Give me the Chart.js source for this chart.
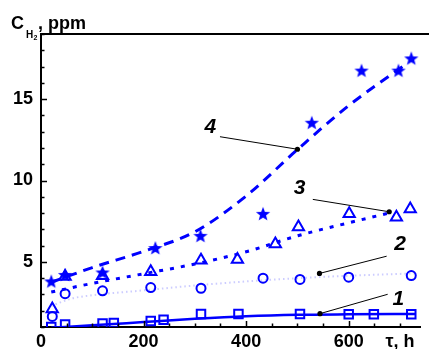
<!DOCTYPE html>
<html>
<head>
<meta charset="utf-8">
<script src="https://cdn.jsdelivr.net/npm/chart.js@4/dist/chart.umd.min.js"></script>
<style>
  html, body { margin: 0; padding: 0; background: #fff; }
  #wrap { width: 429px; height: 349px; position: relative; }
</style>
</head>
<body>
<div id="wrap"><canvas id="chart" width="429" height="349"></canvas></div>
<script>
// measured points, tau in hours, H2 in ppm
const tauSquares = [20, 47, 120, 142, 214, 239, 312, 385, 505, 600, 649, 722];
const h2Squares = [1.0, 1.15, 1.22, 1.25, 1.37, 1.45, 1.8, 1.8, 1.8, 1.78, 1.78, 1.78];

const tauCircles = [22, 47, 120, 214, 312, 433, 505, 600, 722];
const h2Circles = [1.65, 3.05, 3.22, 3.42, 3.38, 4.0, 3.92, 4.06, 4.16];

const tauTriangles = [22, 47, 120, 214, 312, 383, 457, 502, 601, 693, 720];
const h2Triangles = [2.1, 4.1, 4.15, 4.4, 5.1, 5.15, 6.1, 7.15, 7.95, 7.75, 8.25];

const tauStars = [20, 47, 120, 223, 311, 433, 528, 625, 697, 722];
const h2Stars = [3.8, 4.2, 4.35, 5.85, 6.6, 7.95, 13.55, 16.75, 16.75, 17.5];

// fitted curves
const fitTau1 = [20, 100, 200, 300, 400, 500, 600, 730];
const fitH2_1 = [0.95, 1.1, 1.3, 1.5, 1.66, 1.75, 1.78, 1.8];
const fitTau2 = [20, 60, 100, 200, 300, 400, 500, 600, 735];
const fitH2_2 = [2.3, 2.75, 2.95, 3.25, 3.55, 3.8, 4.0, 4.15, 4.3];
const fitTau3 = [20, 100, 200, 300, 400, 500, 600, 685];
const fitH2_3 = [3.15, 3.68, 4.27, 4.87, 5.62, 6.6, 7.4, 8.05];
const fitTau4 = [20, 100, 200, 300, 400, 500, 600, 705];
const fitH2_4 = [3.75, 4.65, 5.65, 6.85, 9.05, 11.9, 14.6, 17.0];

// curve labels: number, text pos, leader start, dot on curve (tau, ppm)
const curveLabels = ['1', '2', '3', '4'];
const labelTau = [697, 700, 504, 330];
const labelH2 = [2.75, 6.15, 9.57, 13.36];
const leaderTau = [676, 674, 530, 349];
const leaderH2 = [3.01, 5.35, 8.84, 12.69];
const dotTau = [544, 543, 679, 500];
const dotH2 = [1.82, 4.29, 8.08, 11.92];

const xLabels = { 0: '0', 200: '200', 400: '400', 600: '600', 700: 'τ, h' };
const yLabels = [5, 10, 15];

const BLUE = '#0000ff';
const FONT = '"Liberation Sans", Arial, sans-serif';

function toPoints(xs, ys) {
    return xs.map((x, i) => ({ x: x, y: ys[i] }));
}

// filled five-point star used as marker
function makeStar(size, color) {
    const c = document.createElement('canvas');
    c.width = size; c.height = size;
    const g = c.getContext('2d');
    const cx = size / 2, cy = size / 2 + 0.5;
    const ro = size / 2 - 0.5, ri = ro * 0.42;
    g.beginPath();
    for (let i = 0; i < 10; i++) {
        const r = i % 2 === 0 ? ro : ri;
        const a = -Math.PI / 2 + i * Math.PI / 5;
        const px = cx + r * Math.cos(a), py = cy + r * Math.sin(a);
        if (i === 0) g.moveTo(px, py); else g.lineTo(px, py);
    }
    g.closePath();
    g.fillStyle = color;
    g.fill();
    return c;
}

const starImg = makeStar(16, BLUE);

const decorPlugin = {
    id: 'decor',
    afterDraw(chart) {
        const ctx = chart.ctx;
        const area = chart.chartArea;
        const xs = chart.scales.x, ys = chart.scales.y;
        ctx.save();

        // top frame line
        ctx.strokeStyle = '#000';
        ctx.lineWidth = 2;
        ctx.beginPath();
        ctx.moveTo(area.left, area.top);
        ctx.lineTo(chart.width, area.top);
        ctx.stroke();

        // inward ticks
        ctx.lineWidth = 1.5;
        ctx.beginPath();
        for (let v = 1; v <= 19; v++) {
            const py = Math.round(ys.getPixelForValue(v)) + 0.5;
            const len = yLabels.includes(v) ? 6 : 3.5;
            ctx.moveTo(area.left, py);
            ctx.lineTo(area.left + len, py);
        }
        for (let v = 50; v <= 700; v += 50) {
            const px = Math.round(xs.getPixelForValue(v)) + 0.5;
            const len = v % 200 === 0 ? 6 : 3.5;
            ctx.moveTo(px, area.bottom);
            ctx.lineTo(px, area.bottom - len);
        }
        ctx.stroke();

        // axis title C_H2, ppm
        ctx.fillStyle = '#000';
        ctx.textBaseline = 'alphabetic';
        ctx.textAlign = 'left';
        ctx.font = 'bold 18px ' + FONT;
        ctx.fillText('C', 11, 28.5);
        ctx.fillText(', ppm', 38, 28.5);
        ctx.font = 'bold 10px ' + FONT;
        ctx.fillText('H', 26, 38);
        ctx.font = 'bold 7px ' + FONT;
        ctx.fillText('2', 33.5, 39.5);

        // curve numbers with leaders
        ctx.font = 'italic bold 21px ' + FONT;
        ctx.textAlign = 'center';
        ctx.textBaseline = 'middle';
        ctx.lineWidth = 1;
        curveLabels.forEach((t, i) => {
            const lx = xs.getPixelForValue(leaderTau[i]), ly = ys.getPixelForValue(leaderH2[i]);
            const dx = xs.getPixelForValue(dotTau[i]), dy = ys.getPixelForValue(dotH2[i]);
            ctx.beginPath();
            ctx.moveTo(lx, ly);
            ctx.lineTo(dx, dy);
            ctx.stroke();
            ctx.beginPath();
            ctx.arc(dx, dy, 2.6, 0, Math.PI * 2);
            ctx.fill();
            ctx.fillText(t, xs.getPixelForValue(labelTau[i]), ys.getPixelForValue(labelH2[i]) + 1);
        });
        ctx.restore();
    }
};

const markerBase = { showLine: false, borderColor: BLUE, backgroundColor: 'rgba(0,0,0,0)', borderWidth: 2 };
const fitBase = { pointRadius: 0, borderColor: BLUE, cubicInterpolationMode: 'monotone', fill: false };

new Chart(document.getElementById('chart'), {
    type: 'scatter',
    data: {
        datasets: [
            { ...markerBase, label: '4', data: toPoints(tauStars, h2Stars), pointStyle: starImg, backgroundColor: BLUE },
            { ...markerBase, label: '3', data: toPoints(tauTriangles, h2Triangles), pointStyle: 'triangle', pointRadius: 6.5 },
            { ...markerBase, label: '2', data: toPoints(tauCircles, h2Circles), pointStyle: 'circle', pointRadius: 4.5 },
            { ...markerBase, label: '1', data: toPoints(tauSquares, h2Squares), pointStyle: 'rect', pointRadius: 6 },
            { ...fitBase, label: 'fit 4', data: toPoints(fitTau4, fitH2_4), showLine: true, borderWidth: 3, borderDash: [10, 7] },
            { ...fitBase, label: 'fit 3', data: toPoints(fitTau3, fitH2_3), showLine: true, borderWidth: 3, borderDash: [4, 7] },
            { ...fitBase, label: 'fit 2', data: toPoints(fitTau2, fitH2_2), showLine: true, borderWidth: 2, borderDash: [1.5, 3], borderColor: 'rgba(110,110,255,0.35)' },
            { ...fitBase, label: 'fit 1', data: toPoints(fitTau1, fitH2_1), showLine: true, borderWidth: 2.5 }
        ]
    },
    options: {
        responsive: false,
        animation: false,
        events: [],
        layout: { padding: { top: 34, right: 0, left: 0, bottom: 0 } },
        plugins: { legend: { display: false }, tooltip: { enabled: false } },
        scales: {
            x: {
                type: 'linear',
                min: 0,
                max: 740,
                grid: { display: false, drawTicks: false },
                border: { display: true, color: '#000', width: 2 },
                ticks: {
                    stepSize: 50,
                    includeBounds: false,
                    autoSkip: false,
                    maxRotation: 0,
                    padding: 4,
                    color: '#000',
                    font: { family: FONT, size: 18, weight: 'bold' },
                    callback: (v) => (xLabels[v] !== undefined ? xLabels[v] : '')
                },
                afterFit: (s) => { s.height = 22; s.paddingLeft = 0; s.paddingRight = 0; }
            },
            y: {
                type: 'linear',
                min: 1,
                max: 19,
                grid: { display: false, drawTicks: false },
                border: { display: true, color: '#000', width: 2 },
                ticks: {
                    stepSize: 1,
                    autoSkip: false,
                    padding: 8,
                    color: '#000',
                    font: { family: FONT, size: 18, weight: 'bold' },
                    callback: (v) => (yLabels.includes(v) ? String(v) : '')
                },
                afterFit: (s) => { s.width = 41; s.paddingTop = 0; s.paddingBottom = 0; }
            }
        }
    },
    plugins: [decorPlugin]
});
</script>
</body>
</html>
